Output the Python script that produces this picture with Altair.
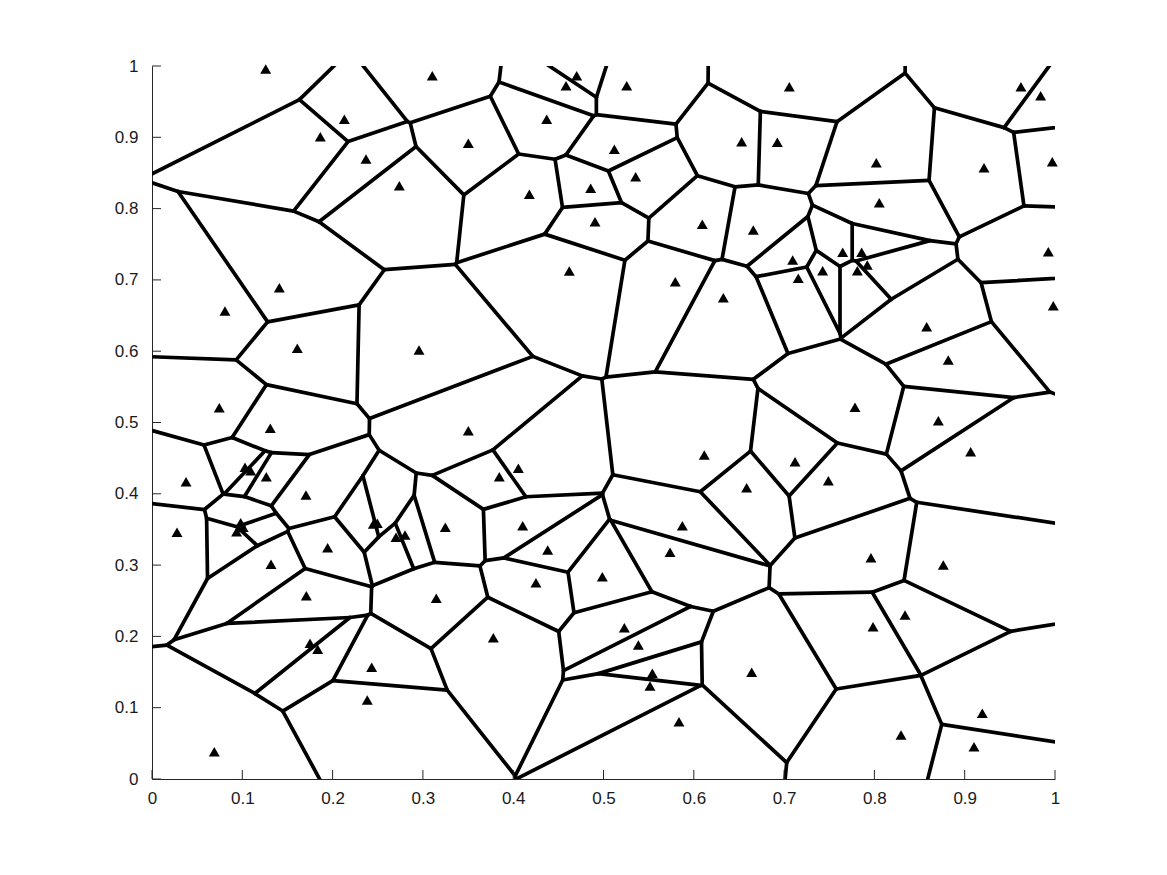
import altair as alt
import numpy as np
import pandas as pd

# Generator points
pt_x = [0.1259, 0.3104, 0.2130, 0.1864, 0.2370, 0.2739, 0.1410, 0.4703, 0.4585, 0.5257,
        0.4371, 0.3503, 0.5120, 0.5356, 0.4858, 0.4179, 0.4906, 0.6094, 0.6659, 0.6530,
        0.4621, 0.5795, 0.6327, 0.7058, 0.9623, 0.9841, 0.6925, 0.8021, 0.9214, 0.9970,
        0.8054, 0.9926, 0.7649, 0.7859, 0.7921, 0.7811, 0.7095, 0.7157, 0.7427, 0.0808,
        0.1609, 0.2957, 0.0745, 0.1310, 0.0377, 0.1030, 0.1093, 0.1266, 0.1705, 0.0277,
        0.0982, 0.1010, 0.0937, 0.2451, 0.2495, 0.2702, 0.2802, 0.3248, 0.3503, 0.4057,
        0.3846, 0.6116, 0.6585, 0.4105, 0.5873, 0.9981, 0.8579, 0.8818, 0.7785, 0.8708,
        0.9066, 0.7121, 0.7490, 0.1945, 0.1318, 0.1709, 0.3148, 0.1750, 0.1835, 0.2433,
        0.2384, 0.0690, 0.4382, 0.5737, 0.4252, 0.4987, 0.3780, 0.5231, 0.5386, 0.5541,
        0.5515, 0.6641, 0.5836, 0.7962, 0.8763, 0.8339, 0.7985, 0.9195, 0.8295, 0.9103]
pt_y = [0.9958, 0.9864, 0.9252, 0.9009, 0.8696, 0.8321, 0.6891, 0.9864, 0.9724, 0.9724,
        0.9252, 0.8916, 0.8832, 0.8448, 0.8284, 0.8201, 0.7817, 0.7780, 0.7700, 0.8939,
        0.7125, 0.6975, 0.6750, 0.9710, 0.9710, 0.9584, 0.8930, 0.8644, 0.8574, 0.8658,
        0.8083, 0.7396, 0.7387, 0.7387, 0.7209, 0.7129, 0.7279, 0.7022, 0.7129, 0.6564,
        0.6040, 0.6017, 0.5208, 0.4919, 0.4170, 0.4371, 0.4324, 0.4240, 0.3983, 0.3460,
        0.3595, 0.3530, 0.3468, 0.3577, 0.3586, 0.3390, 0.3422, 0.3530, 0.4885, 0.4357,
        0.4240, 0.4544, 0.4086, 0.3553, 0.3553, 0.6638, 0.6344, 0.5876, 0.5213, 0.5026,
        0.4591, 0.4450, 0.4184, 0.3244, 0.3011, 0.2571, 0.2534, 0.1903, 0.1819, 0.1567,
        0.1108, 0.0383, 0.3212, 0.3179, 0.2753, 0.2838, 0.1982, 0.2122, 0.1879, 0.1482,
        0.1304, 0.1496, 0.0804, 0.3104, 0.3001, 0.2300, 0.2136, 0.0921, 0.0617, 0.0453]

tick_values = [0, 0.1, 0.2, 0.3, 0.4, 0.5, 0.6, 0.7, 0.8, 0.9, 1]


def clip_poly(poly, a, b, c):
    """Keep the part of polygon with a*x + b*y <= c."""
    out = []
    n = len(poly)
    for k in range(n):
        P = poly[k]
        Q = poly[(k + 1) % n]
        fp = a * P[0] + b * P[1] - c
        fq = a * Q[0] + b * Q[1] - c
        if fp <= 0:
            out.append(P)
        if (fp < 0 and fq > 0) or (fp > 0 and fq < 0):
            t = fp / (fp - fq)
            out.append((P[0] + t * (Q[0] - P[0]), P[1] + t * (Q[1] - P[1])))
    return out


P = np.column_stack([pt_x, pt_y])
big = [(-2.0, -2.0), (3.0, -2.0), (3.0, 3.0), (-2.0, 3.0)]
segs = {}
for i in range(len(P)):
    poly = list(big)
    for j in range(len(P)):
        if i == j:
            continue
        d = P[j] - P[i]
        m = (P[i] + P[j]) / 2.0
        poly = clip_poly(poly, d[0], d[1], float(d @ m))
        if not poly:
            break
    n = len(poly)
    for k in range(n):
        a = poly[k]
        b = poly[(k + 1) % n]
        if (a[0] - b[0]) ** 2 + (a[1] - b[1]) ** 2 < 1e-14:
            continue
        ka = (round(a[0], 6), round(a[1], 6))
        kb = (round(b[0], 6), round(b[1], 6))
        key = tuple(sorted([ka, kb]))
        segs[key] = (a[0], a[1], b[0], b[1])

seg_df = pd.DataFrame(list(segs.values()), columns=["x", "y", "x2", "y2"])
pts_df = pd.DataFrame({"x": pt_x, "y": pt_y})
tick_df = pd.DataFrame({"v": tick_values})

xs = alt.Scale(domain=[0, 1], nice=False, zero=False)
ys = alt.Scale(domain=[0, 1], nice=False, zero=False)

axis_common = dict(
    values=tick_values, format="~g", grid=False, ticks=False, tickSize=0,
    domainColor="#262626", domainWidth=1, labelColor="#1a1a1a",
    labelFont="Liberation Sans", labelFontSize=17, labelFlush=False,
    labelOverlap=False, title=None,
)

edges = alt.Chart(seg_df).mark_rule(
    color="black", strokeWidth=3.7, strokeCap="round", clip=True
).encode(
    x=alt.X("x:Q", scale=xs, axis=alt.Axis(labelPadding=11, **axis_common)),
    y=alt.Y("y:Q", scale=ys, axis=alt.Axis(labelPadding=14, **axis_common)),
    x2="x2:Q",
    y2="y2:Q",
)

points = alt.Chart(pts_df).mark_point(
    shape="triangle-up", filled=True, color="black", opacity=1, size=120
).encode(
    x=alt.X("x:Q", scale=xs, title=None),
    y=alt.Y("y:Q", scale=ys, title=None),
)

yticks = alt.Chart(tick_df).mark_rule(color="#262626", strokeWidth=1).encode(
    y=alt.Y("v:Q", scale=ys, title=None),
    x=alt.value(0),
    x2=alt.value(9),
)
xticks = alt.Chart(tick_df).mark_rule(color="#262626", strokeWidth=1).encode(
    x=alt.X("v:Q", scale=xs, title=None),
    y=alt.value(713),
    y2=alt.value(704),
)

chart = alt.layer(edges, points, yticks, xticks).properties(
    width=903,
    height=713,
    autosize=alt.AutoSizeParams(type="none"),
    padding={"left": 144, "top": 58, "right": 100, "bottom": 88},
    background="white",
).configure_view(strokeWidth=0)

chart.save("out.html", embed_options={"renderer": "svg", "actions": False})
